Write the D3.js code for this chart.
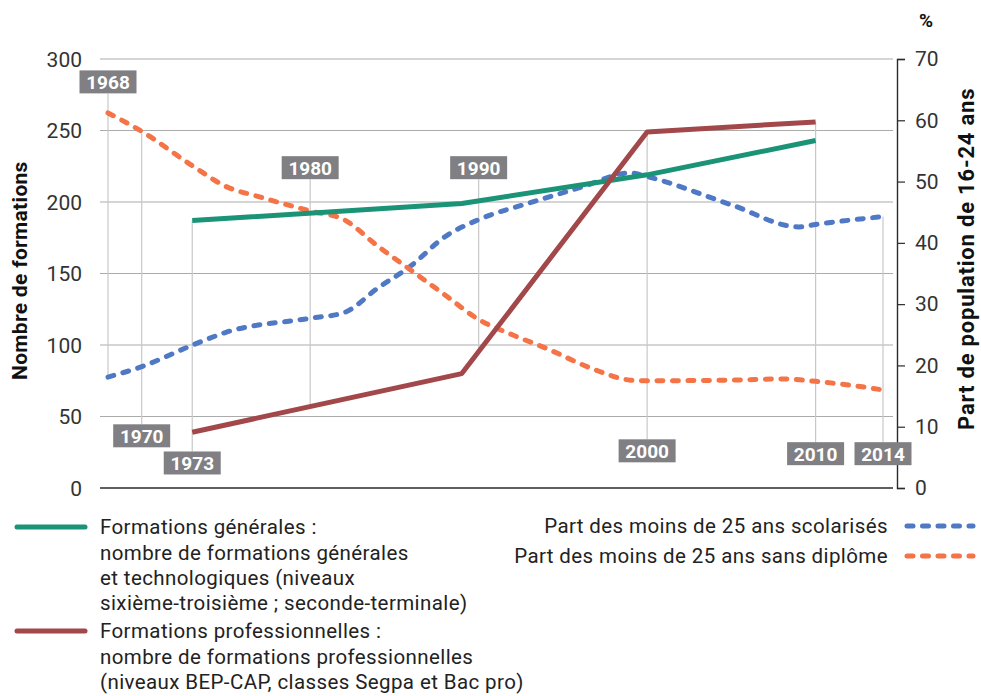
<!DOCTYPE html>
<html>
<head>
<meta charset="utf-8">
<script src="https://cdn.jsdelivr.net/npm/d3@7"></script>
<style>
  body { margin: 0; background: #fff; }
  svg { display: block; font-family: Roboto, "Noto Sans", sans-serif; }
</style>
</head>
<body>
<svg id="chart" width="981" height="696"></svg>
<script>
// Formations générales (left axis, nombre de formations)
const genYears = [1973, 1989, 2000, 2010];
const genValues = [187, 199, 219, 243];

// Formations professionnelles (left axis)
const proYears = [1973, 1989, 2000, 2010];
const proValues = [39, 80, 249, 256];

// Part des moins de 25 ans scolarisés (right axis, %)
const scolYears = [1968, 1970, 1973, 1975, 1980, 1982, 1984, 1986, 1988, 1990, 1993, 1996, 1999, 2000, 2005, 2009, 2010, 2014];
const scolValues = [18.1, 19.8, 23.3, 25.4, 27.7, 28.6, 32.6, 36.3, 41, 43.8, 46.5, 49, 51.4, 50.8, 46.2, 42.6, 43, 44.3];

// Part des moins de 25 ans sans diplôme (right axis, %)
const sansYears = [1968, 1970, 1973, 1975, 1977, 1980, 1982, 1984, 1986, 1988, 1990, 1992, 1994, 1997, 1999, 2000, 2005, 2008, 2010, 2012, 2014];
const sansValues = [61.2, 58.2, 52.6, 49.2, 47.5, 45.2, 43.8, 39.5, 35.5, 31.5, 27.5, 25, 22.8, 19.2, 17.6, 17.5, 17.6, 17.8, 17.4, 16.8, 16];

const leftTicks = [0, 50, 100, 150, 200, 250, 300];
const rightTicks = [0, 10, 20, 30, 40, 50, 60, 70];

// year markers: label, which side of the curves, which series the drop line reaches
const markYears = [1968, 1970, 1973, 1980, 1990, 2000, 2010, 2014];
const markSides = ['top', 'bottom', 'bottom', 'top', 'top', 'bottom', 'bottom', 'bottom'];
const markAnchors = ['scol', 'sans', 'gen', 'pro', 'pro', 'pro', 'pro', 'scol'];

const legendGen = ['Formations générales :', 'nombre de formations générales', 'et technologiques (niveaux', 'sixième-troisième ; seconde-terminale)'];
const legendPro = ['Formations professionnelles :', 'nombre de formations professionnelles', '(niveaux BEP-CAP, classes Segpa et Bac pro)'];
const legendScol = 'Part des moins de 25 ans scolarisés';
const legendSans = 'Part des moins de 25 ans sans diplôme';

const colors = { gen: '#1a9377', pro: '#a2474a', scol: '#4f79c4', sans: '#f47347' };

const svg = d3.select('#chart');

const x = d3.scaleLinear().domain([1968, 2014]).range([108, 883]);
const yL = d3.scaleLinear().domain([0, 300]).range([488, 59]);
const yR = d3.scaleLinear().domain([0, 70]).range([488, 59]);

const zip = (ys, vs) => ys.map((year, i) => ({ year, value: vs[i] }));
const series = {
  gen: { data: zip(genYears, genValues), y: yL },
  pro: { data: zip(proYears, proValues), y: yL },
  scol: { data: zip(scolYears, scolValues), y: yR },
  sans: { data: zip(sansYears, sansValues), y: yR }
};

// value of a series at a given year (only used to end the drop lines)
const valueAt = (key, year) => {
  const d = series[key].data;
  const i = d3.bisector(p => p.year).left(d, year);
  if (d[i] && d[i].year === year) return series[key].y(d[i].value);
  const a = d[i - 1], b = d[i];
  const t = (year - a.year) / (b.year - a.year);
  return series[key].y(a.value + t * (b.value - a.value));
};

// label box centres, in left axis units
const markLevels = [284, 36.5, 17.5, 224, 224, 26, 24, 24];
const boxW = 57, boxH = 23;

// horizontal gridlines
svg.append('g')
  .selectAll('line')
  .data(leftTicks.filter(t => t > 0))
  .join('line')
  .attr('x1', 100).attr('x2', 893)
  .attr('y1', d => yL(d)).attr('y2', d => yL(d))
  .attr('stroke', '#ababab').attr('stroke-width', 1.2);

// drop lines
const marks = markYears.map((year, i) => ({
  year, side: markSides[i], anchor: markAnchors[i], cy: yL(markLevels[i])
}));

svg.append('g')
  .selectAll('line')
  .data(marks)
  .join('line')
  .attr('x1', d => x(d.year)).attr('x2', d => x(d.year))
  .attr('y1', d => d.side === 'top' ? d.cy + boxH / 2 : d.cy - boxH / 2)
  .attr('y2', d => valueAt(d.anchor, d.year))
  .attr('stroke', '#c8c8c8').attr('stroke-width', 1.2);

// zero line
svg.append('line')
  .attr('x1', 100).attr('x2', 893)
  .attr('y1', yL(0)).attr('y2', yL(0))
  .attr('stroke', '#2b2b2b').attr('stroke-width', 1.5);

// left tick labels
svg.append('g')
  .selectAll('text')
  .data(leftTicks)
  .join('text')
  .attr('x', 82).attr('y', d => yL(d))
  .attr('dy', '0.36em')
  .attr('text-anchor', 'end')
  .style('font-size', '21px').style('fill', '#333')
  .text(d => d);

// right axis
const rightAxis = svg.append('g')
  .attr('transform', 'translate(897,0)')
  .call(d3.axisRight(yR).tickValues(rightTicks).tickSize(8).tickPadding(10));
rightAxis.select('.domain').attr('stroke', '#2b2b2b').attr('stroke-width', 1.4);
rightAxis.selectAll('.tick line').attr('stroke', '#2b2b2b').attr('stroke-width', 1.2);
rightAxis.selectAll('.tick text')
  .style('font-size', '21px').style('font-family', 'Roboto, sans-serif').attr('fill', '#333');

// axis titles
svg.append('text')
  .attr('transform', `translate(27,${yL(152)}) rotate(-90)`)
  .attr('text-anchor', 'middle')
  .style('font-size', '21px').style('font-weight', 'bold').style('fill', '#111')
  .style('letter-spacing', '0.3px')
  .text('Nombre de formations');

svg.append('text')
  .attr('transform', `translate(974,${yR(37.4)}) rotate(-90)`)
  .attr('text-anchor', 'middle')
  .style('font-size', '22px').style('font-weight', 'bold').style('fill', '#111')
  .style('letter-spacing', '0.8px')
  .text('Part de population de 16-24 ans');

svg.append('text')
  .attr('x', 926).attr('y', 27)
  .attr('text-anchor', 'middle')
  .style('font-size', '19px').style('font-weight', 'bold').style('fill', '#111')
  .text('%');

// curves
const lineOf = key => d3.line()
  .x(d => x(d.year))
  .y(d => series[key].y(d.value))
  .curve(key === 'scol' || key === 'sans' ? d3.curveMonotoneX : d3.curveLinear);

['scol', 'sans', 'gen', 'pro'].forEach(key => {
  const dashed = key === 'scol' || key === 'sans';
  svg.append('path')
    .datum(series[key].data)
    .attr('d', lineOf(key))
    .attr('fill', 'none')
    .attr('stroke', colors[key])
    .attr('stroke-width', 5)
    .attr('stroke-linecap', dashed ? 'round' : 'butt')
    .attr('stroke-linejoin', 'round')
    .attr('stroke-dasharray', dashed ? '6 9.5' : null);
});

// year labels
const labels = svg.append('g')
  .selectAll('g')
  .data(marks)
  .join('g')
  .attr('transform', d => `translate(${x(d.year)},${d.cy})`);

labels.append('rect')
  .attr('x', -boxW / 2).attr('y', -boxH / 2)
  .attr('width', boxW).attr('height', boxH)
  .attr('fill', '#808084');

labels.append('text')
  .attr('text-anchor', 'middle')
  .attr('dy', '0.36em')
  .style('font-size', '19px').style('font-weight', 'bold').style('fill', '#fff')
  .text(d => d.year);

// legend
const legend = svg.append('g')
  .style('font-size', '20.5px').style('letter-spacing', '0.4px').style('fill', '#222');

const block = (lines, top, color) => {
  legend.append('line')
    .attr('x1', 17).attr('x2', 85)
    .attr('y1', top).attr('y2', top)
    .attr('stroke', color).attr('stroke-width', 5).attr('stroke-linecap', 'round');
  legend.append('g')
    .selectAll('text')
    .data(lines)
    .join('text')
    .attr('x', 100).attr('y', (d, i) => top + i * 25.3)
    .attr('dy', '0.36em')
    .text(d => d);
};
block(legendGen, 527, colors.gen);
block(legendPro, 631, colors.pro);

[[legendScol, 526, colors.scol], [legendSans, 556, colors.sans]].forEach(([label, yy, color]) => {
  legend.append('text')
    .attr('x', 888).attr('y', yy)
    .attr('dy', '0.36em')
    .attr('text-anchor', 'end')
    .text(label);
  legend.append('line')
    .attr('x1', 907).attr('x2', 973)
    .attr('y1', yy).attr('y2', yy)
    .attr('stroke', color).attr('stroke-width', 5)
    .attr('stroke-linecap', 'round')
    .attr('stroke-dasharray', '6 9.5');
});
</script>
</body>
</html>
